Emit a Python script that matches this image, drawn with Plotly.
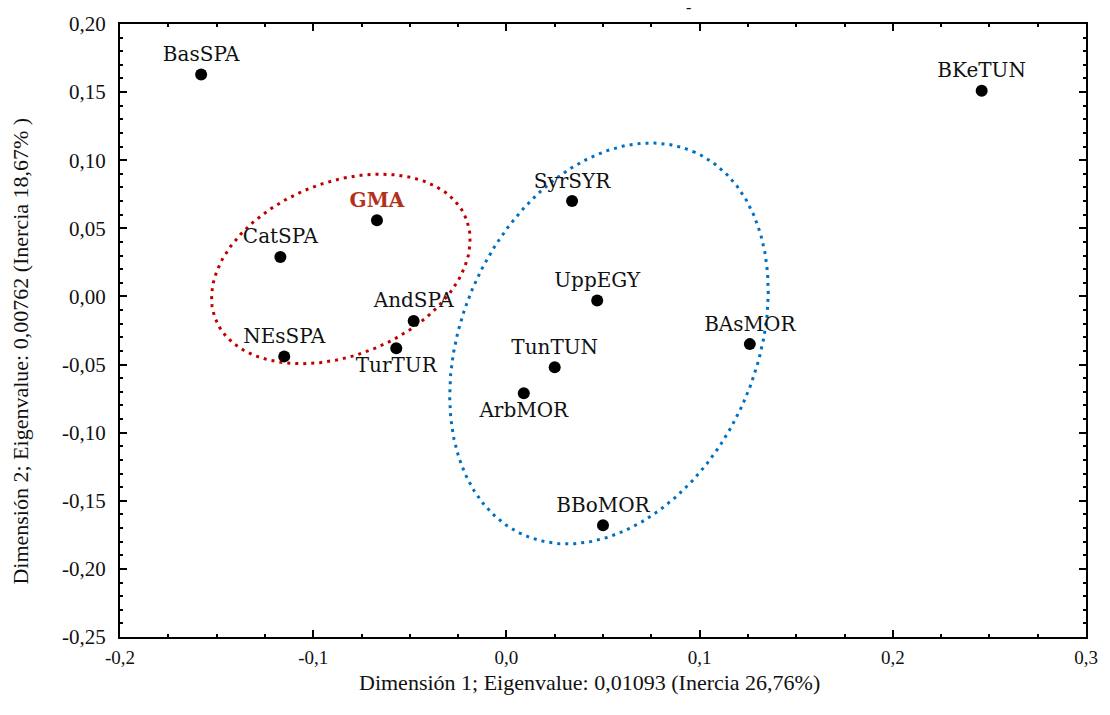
import numpy as np
import plotly.graph_objects as go

# Correspondence-analysis coordinates of each population
populations = ["BasSPA", "BKeTUN", "GMA", "CatSPA", "SyrSYR", "UppEGY", "AndSPA",
               "NEsSPA", "TurTUR", "BAsMOR", "TunTUN", "ArbMOR", "BBoMOR"]
dim1 = [-0.158, 0.246, -0.067, -0.117, 0.034, 0.047, -0.048,
        -0.115, -0.057, 0.126, 0.025, 0.009, 0.050]
dim2 = [0.163, 0.151, 0.056, 0.029, 0.070, -0.003, -0.018,
        -0.044, -0.038, -0.035, -0.052, -0.071, -0.168]
label_side = ["top", "top", "top", "top", "top", "top", "top",
              "top", "bottom", "top", "top", "bottom", "top"]

# Axis ticks
x_ticks = [-0.2, -0.1, 0.0, 0.1, 0.2, 0.3]
x_tick_text = ["-0,2", "-0,1", "0,0", "0,1", "0,2", "0,3"]
y_ticks = [0.20, 0.15, 0.10, 0.05, 0.00, -0.05, -0.10, -0.15, -0.20, -0.25]
y_tick_text = ["0,20", "0,15", "0,10", "0,05", "0,00", "-0,05", "-0,10", "-0,15", "-0,20", "-0,25"]

X_RANGE = [-0.2, 0.3]
Y_RANGE = [-0.25, 0.20]

# Layout geometry
W, H = 1110, 715
M = dict(l=120, r=17, t=20, b=78)
plot_w = W - M["l"] - M["r"]
plot_h = H - M["t"] - M["b"]
px_per_x = plot_w / (X_RANGE[1] - X_RANGE[0])
px_per_y = plot_h / (Y_RANGE[1] - Y_RANGE[0])


def ellipse(cx, cy, a_px, b_px, angle_deg, n=400):
    """Rotated ellipse drawn in screen space, returned in data units."""
    t = np.linspace(0, 2 * np.pi, n)
    th = np.radians(angle_deg)
    u = a_px * np.cos(t) * np.cos(th) - b_px * np.sin(t) * np.sin(th)
    v = a_px * np.cos(t) * np.sin(th) + b_px * np.sin(t) * np.cos(th)
    return cx + u / px_per_x, cy + v / px_per_y


def paper_x(px):
    return (px - M["l"]) / plot_w


def paper_y(py):
    return (H - M["b"] - py) / plot_h


fig = go.Figure()

# Group outlines
rx, ry = ellipse(-0.0857, 0.0202, 136, 87, 22)
fig.add_trace(go.Scatter(x=rx, y=ry, mode="lines", hoverinfo="skip",
                         line=dict(color="#C00000", width=3, dash="3px,5px")))
bx, by = ellipse(0.0531, -0.0345, 211, 148, 65.7)
fig.add_trace(go.Scatter(x=bx, y=by, mode="lines", hoverinfo="skip",
                         line=dict(color="#0070C0", width=3, dash="3px,5px")))

# Points with labels
label_colors = ["#B5301A" if p == "GMA" else "#111111" for p in populations]
display = ["<b>GMA</b>" if p == "GMA" else p for p in populations]
fig.add_trace(go.Scatter(
    x=dim1, y=dim2, mode="markers+text",
    marker=dict(color="black", size=12),
    text=display,
    textposition=[s + " center" for s in label_side],
    textfont=dict(family="DejaVu Serif", size=20, color=label_colors),
    cliponaxis=False,
))

title_font = dict(family="Liberation Serif", size=22, color="#111")
fig.update_layout(
    width=W, height=H, margin=M,
    paper_bgcolor="white", plot_bgcolor="white",
    showlegend=False,
    annotations=[
        dict(text="Dimensión 1; Eigenvalue: 0,01093 (Inercia 26,76%)",
             x=paper_x(593), y=paper_y(683), xref="paper", yref="paper",
             showarrow=False, font=title_font,
             xanchor="center", yanchor="middle"),
        dict(text="Dimensión 2; Eigenvalue: 0,00762 (Inercia 18,67% )",
             x=paper_x(20), y=paper_y(349), xref="paper", yref="paper",
             textangle=-90, showarrow=False, font=title_font,
             xanchor="center", yanchor="middle"),
        dict(text="-", x=paper_x(693), y=paper_y(3), xref="paper", yref="paper",
             showarrow=False,
             font=dict(family="Liberation Serif", size=16, color="#111"),
             xanchor="center", yanchor="middle"),
    ],
)

axis_common = dict(
    showgrid=False, zeroline=False, showline=True, linecolor="black", linewidth=2,
    mirror="allticks", ticks="inside", ticklen=7, tickwidth=1.5, tickcolor="black",
)
fig.update_xaxes(
    range=X_RANGE, tickvals=x_ticks, ticktext=x_tick_text,
    tickfont=dict(family="Liberation Serif", size=19, color="#111"),
    ticklabelstandoff=2,
    minor=dict(dtick=0.025, ticks="inside", ticklen=3, tickcolor="black", tickwidth=1.5),
    **axis_common,
)
fig.update_yaxes(
    range=Y_RANGE, tickvals=y_ticks, ticktext=y_tick_text,
    tickfont=dict(family="Liberation Serif", size=21, color="#111"),
    ticklabelstandoff=8,
    minor=dict(dtick=0.01, ticks="inside", ticklen=3, tickcolor="black", tickwidth=1.5),
    **axis_common,
)

fig.write_html("out.html")
